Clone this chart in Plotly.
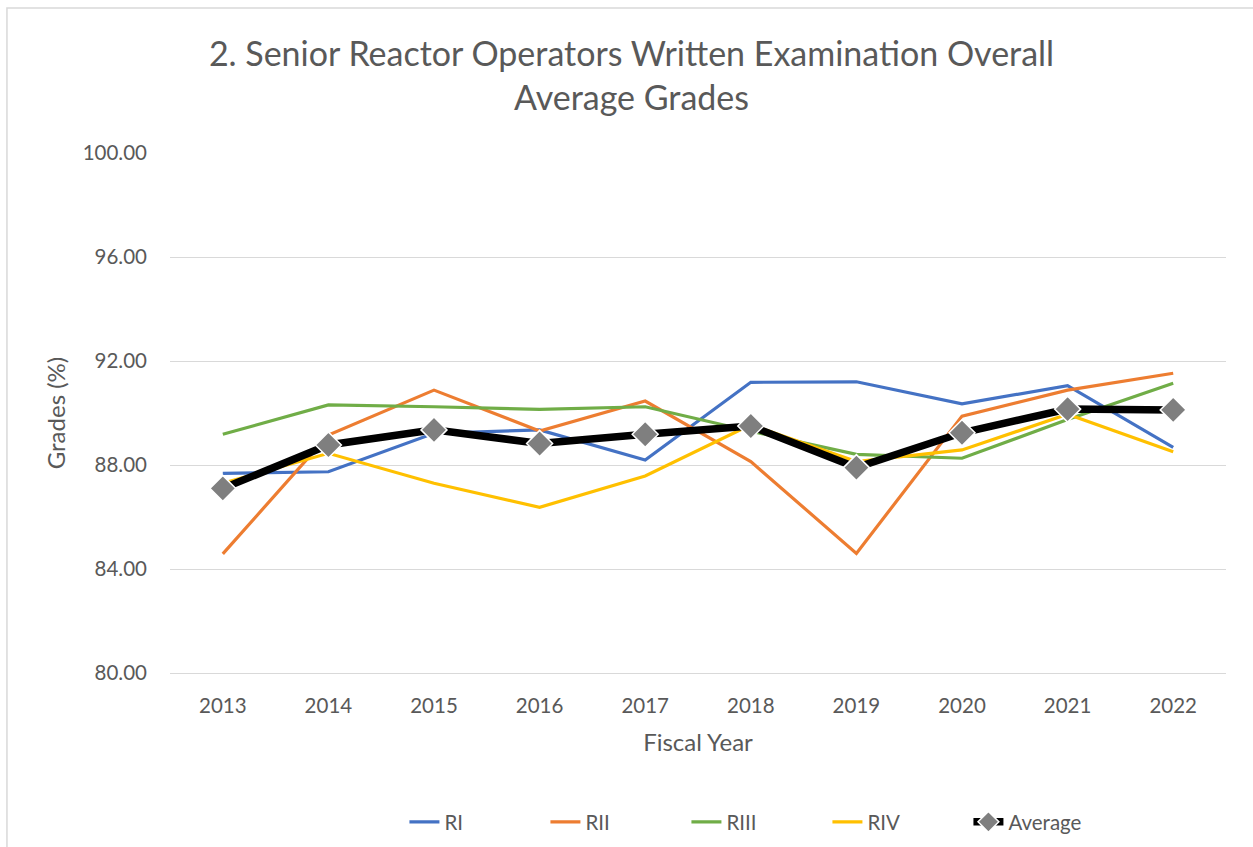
import plotly.graph_objects as go

years = ["2013", "2014", "2015", "2016", "2017", "2018", "2019", "2020", "2021", "2022"]
ri = [87.68, 87.74, 89.22, 89.35, 88.19, 91.18, 91.20, 90.35, 91.05, 88.68]
rii = [84.58, 89.15, 90.88, 89.31, 90.46, 88.13, 84.60, 89.88, 90.88, 91.53]
riii = [89.18, 90.31, 90.24, 90.14, 90.24, 89.30, 88.41, 88.26, 89.75, 91.14]
riv = [87.30, 88.45, 87.30, 86.37, 87.58, 89.55, 88.13, 88.58, 89.95, 88.51]
average = [87.10, 88.77, 89.35, 88.83, 89.18, 89.50, 87.90, 89.24, 90.15, 90.12]

FONT = "Lato, Open Sans, sans-serif"
GREY = "#595959"

fig = go.Figure()
for name, vals, color in [("RI", ri, "#4472C4"), ("RII", rii, "#ED7D31"),
                          ("RIII", riii, "#70AD47"), ("RIV", riv, "#FFC000")]:
    fig.add_trace(go.Scatter(x=years, y=vals, name=name, mode="lines",
                             line=dict(color=color, width=3.2)))
fig.add_trace(go.Scatter(x=years, y=average, name="Average", mode="lines+markers",
                         line=dict(color="black", width=7.5),
                         marker=dict(symbol="diamond", size=20, color="#7F7F7F",
                                     line=dict(color="white", width=1.5))))

fig.update_layout(
    width=1253, height=847,
    margin=dict(l=170, r=27, t=153, b=174, autoexpand=False),
    paper_bgcolor="white", plot_bgcolor="white",
    font=dict(family=FONT, color=GREY, size=20),
    title=dict(text="2. Senior Reactor Operators Written Examination Overall<br>Average Grades",
               x=0.504, xanchor="center", y=0.922, yanchor="middle",
               font=dict(size=34, color=GREY, family=FONT)),
    xaxis=dict(type="category", range=[-0.5, 9.5], showgrid=False, showline=True,
               linecolor="#D9D9D9", linewidth=1, ticks="",
               tickfont=dict(size=20.5, color=GREY),
               ticklabelstandoff=14, automargin=False,
               title=dict(text="Fiscal Year", font=dict(size=24, color=GREY), standoff=18)),
    yaxis=dict(range=[80, 100], dtick=4, tickformat=".2f", showgrid=True,
               gridcolor="#D9D9D9", gridwidth=1.3, zeroline=False, ticks="",
               tickfont=dict(size=20.5, color=GREY), ticklabelstandoff=22, automargin=False,
               title=dict(text="Grades (%)", font=dict(size=24, color=GREY), standoff=10)),
    legend=dict(orientation="h", x=0.222, xanchor="left", y=-0.2865, yanchor="middle",
                font=dict(size=20.5, color=GREY), entrywidth=96, entrywidthmode="pixels",
                traceorder="normal"),
    shapes=[dict(type="rect", xref="paper", yref="paper", x0=-0.1544, x1=1.2,
                 y0=-0.6, y1=1.2788, line=dict(color="#D9D9D9", width=1.5),
                 fillcolor="rgba(0,0,0,0)", layer="below")],
)

fig.write_html("out.html", config={"displayModeBar": False},
               post_script="document.body.style.margin='0';document.body.style.overflow='hidden';")
